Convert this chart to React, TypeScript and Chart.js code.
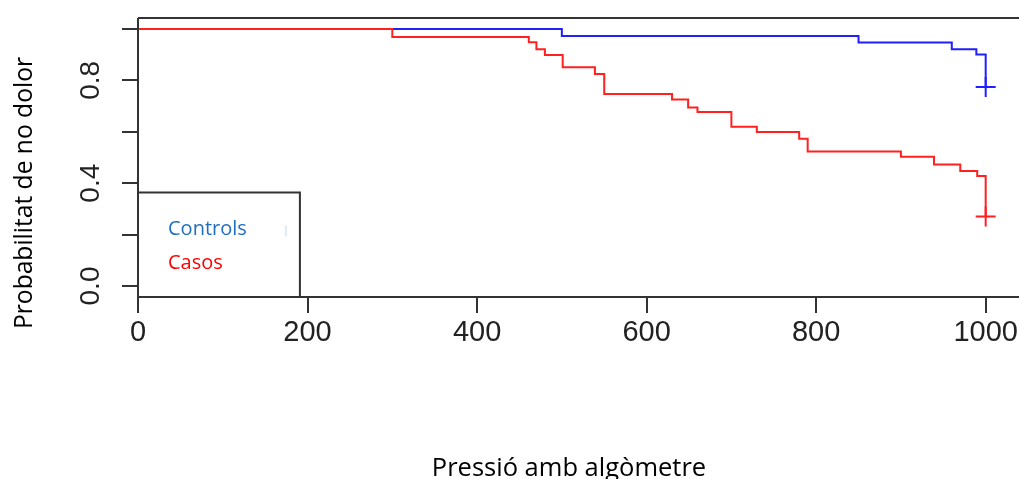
import React, { useEffect, useRef } from "react";
import { Chart, registerables } from "chart.js";

Chart.register(...registerables);

// Kaplan-Meier step data
const controlTimes = [0, 500, 850, 960, 989, 1000];
const controlSurv = [1.0, 0.973, 0.947, 0.921, 0.901, 0.774];

const caseTimes = [0, 300, 461, 470, 480, 501, 539, 550, 630, 649, 660, 700, 730, 780, 790, 900, 939, 970, 990, 1000];
const caseSurv = [1.0, 0.969, 0.948, 0.921, 0.899, 0.851, 0.825, 0.747, 0.726, 0.695, 0.677, 0.62, 0.599, 0.573, 0.523, 0.503, 0.473, 0.447, 0.428, 0.27];

const controlCensorTime = [1000];
const controlCensorSurv = [0.774];
const caseCensorTime = [1000];
const caseCensorSurv = [0.27];

const xTicks = [0, 200, 400, 600, 800, 1000];
const xTickLabels = ["0", "200", "400", "600", "800", "1000"];
const yTicks = [0, 0.2, 0.4, 0.6, 0.8, 1.0];
const yLabelValues = [0, 0.4, 0.8];
const yLabelTexts = ["0.0", "0.4", "0.8"];

const legendNames = ["Controls", "Casos"];
const xTitle = "Pressió amb algòmetre";
const yTitle = "Probabilitat de no dolor";

const W = 1019;
const H = 479;

const toPts = (xs: number[], ys: number[]) => xs.map((x, i) => ({ x, y: ys[i] }));

const decorPlugin = {
  id: "decor",
  afterDraw(chart: any) {
    const ctx = chart.ctx as CanvasRenderingContext2D;
    const { left, top, bottom } = chart.chartArea;
    const xs = chart.scales.x;
    const ys = chart.scales.y;
    ctx.save();
    // frame
    ctx.strokeStyle = "#333333";
    ctx.lineWidth = 2;
    ctx.beginPath();
    ctx.moveTo(left, top);
    ctx.lineTo(W, top);
    ctx.moveTo(left, top);
    ctx.lineTo(left, bottom);
    ctx.moveTo(left, bottom);
    ctx.lineTo(W, bottom);
    ctx.stroke();

    // ticks
    ctx.beginPath();
    xTicks.forEach((v) => {
      const px = Math.round(xs.getPixelForValue(v));
      ctx.moveTo(px, bottom);
      ctx.lineTo(px, bottom + 16);
    });
    yTicks.forEach((v) => {
      const py = Math.round(ys.getPixelForValue(v));
      ctx.moveTo(left, py);
      ctx.lineTo(left - 16, py);
    });
    ctx.stroke();

    // x tick labels
    ctx.fillStyle = "#222222";
    ctx.font = '29px "Liberation Sans", Arial, sans-serif';
    ctx.textAlign = "center";
    ctx.textBaseline = "alphabetic";
    xTicks.forEach((v, i) => {
      ctx.fillText(xTickLabels[i], xs.getPixelForValue(v), bottom + 44);
    });

    // y tick labels (rotated)
    ctx.font = '28px "Liberation Sans", Arial, sans-serif';
    yLabelValues.forEach((v, i) => {
      const py = ys.getPixelForValue(v);
      ctx.save();
      ctx.translate(left - 39, py);
      ctx.rotate(-Math.PI / 2);
      ctx.fillText(yLabelTexts[i], 0, 0);
      ctx.restore();
    });

    // legend box
    const lx1 = xs.getPixelForValue(191);
    const ly0 = ys.getPixelForValue(0.364);
    ctx.fillStyle = "#ffffff";
    ctx.fillRect(left + 1, ly0, lx1 - left - 1, bottom - ly0 - 1);
    ctx.strokeStyle = "#333333";
    ctx.lineWidth = 2;
    ctx.beginPath();
    ctx.moveTo(left, ly0);
    ctx.lineTo(lx1, ly0);
    ctx.lineTo(lx1, bottom);
    ctx.stroke();
    ctx.font = '20px "Open Sans", sans-serif';
    ctx.textAlign = "left";
    ctx.fillStyle = "#1f6fc0";
    ctx.fillText(legendNames[0], left + 30, ly0 + 43);
    ctx.fillStyle = "#ff0000";
    ctx.fillText(legendNames[1], left + 30, ly0 + 77);
    ctx.strokeStyle = "#b8dcf5";
    ctx.lineWidth = 1;
    ctx.beginPath();
    ctx.moveTo(lx1 - 14, ly0 + 33);
    ctx.lineTo(lx1 - 14, ly0 + 44);
    ctx.stroke();

    // axis titles
    ctx.fillStyle = "#000000";
    ctx.textAlign = "center";
    ctx.font = '25.5px "Open Sans", sans-serif';
    ctx.fillText(xTitle, 569, 476);
    ctx.font = '24.6px "Open Sans", sans-serif';
    ctx.save();
    ctx.translate(32, 193);
    ctx.rotate(-Math.PI / 2);
    ctx.fillText(yTitle, 0, 0);
    ctx.restore();

    ctx.restore();
  },
};

export default function App() {
  const ref = useRef<HTMLCanvasElement>(null);
  useEffect(() => {
    if (!ref.current) return;
    const chart = new Chart(ref.current, {
      type: "line",
      data: {
        datasets: [
          {
            label: legendNames[1],
            data: toPts(caseTimes, caseSurv),
            borderColor: "#ff2020",
            borderWidth: 2,
            stepped: "before",
            pointRadius: 0,
            fill: false,
          },
          {
            label: legendNames[0],
            data: toPts(controlTimes, controlSurv),
            borderColor: "#2020ff",
            borderWidth: 2,
            stepped: "before",
            pointRadius: 0,
            fill: false,
          },
          {
            label: "censor-cases",
            data: toPts(caseCensorTime, caseCensorSurv),
            showLine: false,
            pointStyle: "cross",
            pointRadius: 10,
            pointBorderWidth: 2,
            borderColor: "#ff2020",
          },
          {
            label: "censor-controls",
            data: toPts(controlCensorTime, controlCensorSurv),
            showLine: false,
            pointStyle: "cross",
            pointRadius: 10,
            pointBorderWidth: 2,
            borderColor: "#2020ff",
          },
        ],
      },
      options: {
        responsive: false,
        animation: false,
        events: [],
        layout: {
          autoPadding: false,
          padding: { left: 138, top: 18, right: 0, bottom: H - 297 },
        },
        scales: {
          x: { type: "linear", min: 0, max: 1039.3, display: false },
          y: { type: "linear", min: -0.0428, max: 1.0428, display: false },
        },
        plugins: {
          legend: { display: false },
          tooltip: { enabled: false },
        },
      },
      plugins: [decorPlugin],
    });
    return () => chart.destroy();
  }, []);
  return (
    <div style={{ position: "fixed", left: 0, top: 0, width: W, height: H, background: "#fff" }}>
      <canvas ref={ref} width={W} height={H} style={{ display: "block" }} />
    </div>
  );
}
